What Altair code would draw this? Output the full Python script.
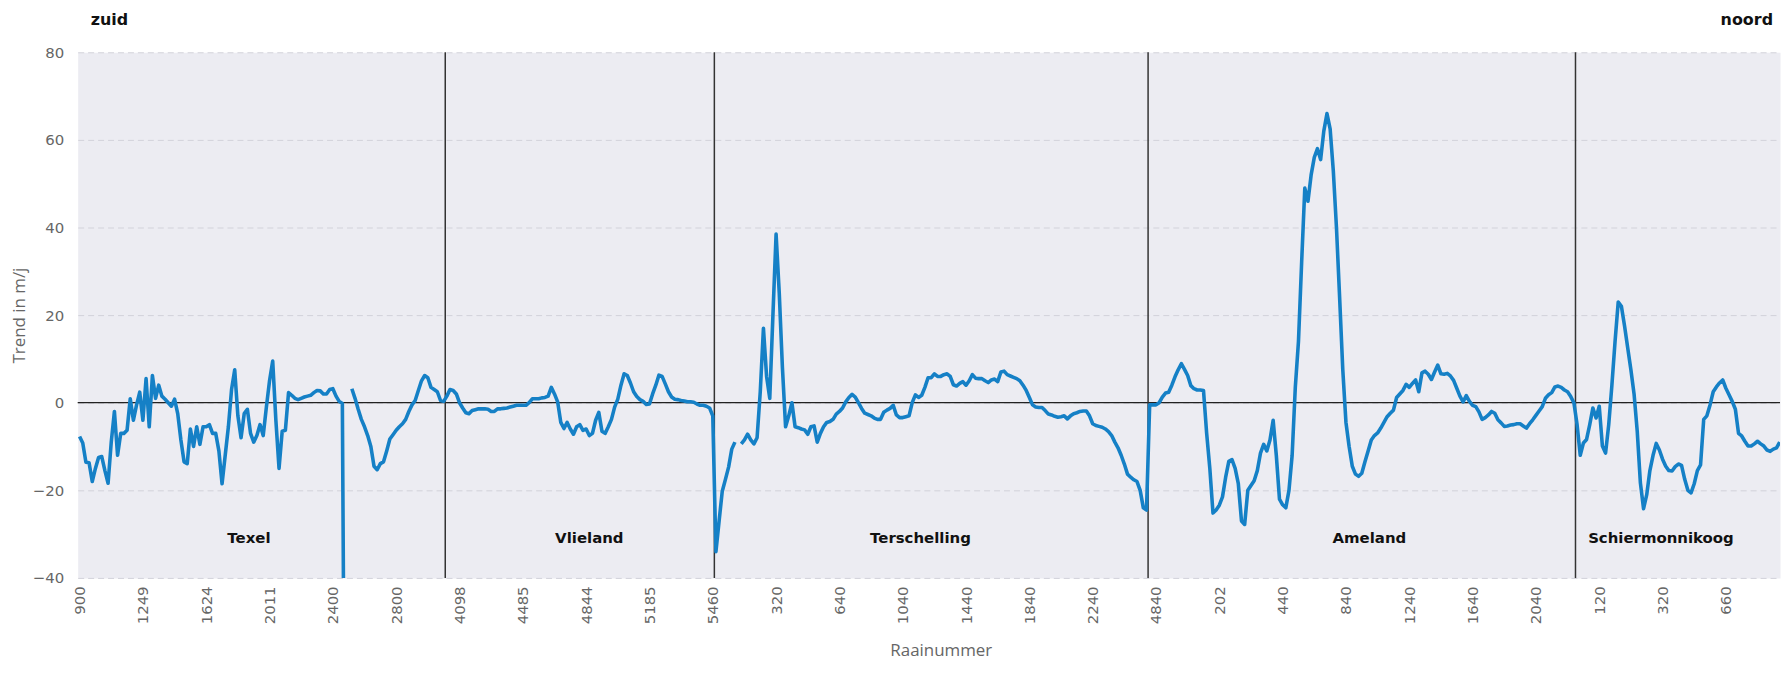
import altair as alt
import pandas as pd

# Trend (m/j) per raai, one list per island (south -> north)
texel = [
    -7.7, -9.2, -13.6, -13.7, -18, -15, -12.5, -12.3, -15.5, -18.4,
    -9, -2, -12, -7, -7, -6.3, 0.9, -4, -0.5, 2.4,
    -4, 5.5, -5.5, 6.2, 1, 4, 1.5, 0.8, 0, -0.8,
    0.8, -2.5, -8.5, -13.5, -13.9, -6, -10, -5.5, -9.5, -5.5,
    -5.5, -5, -7, -7, -11, -18.5, -12, -5.5, 3, 7.5,
    -3, -8, -2.5, -1.5, -7, -9, -7.5, -5, -7.5, -1,
    5, 9.5, -4, -15, -6.5, -6.3, 2.3, 1.7, 1, 0.7,
    1, 1.3, 1.5, 1.7, 2.3, 2.8, 2.7, 2, 2, 3,
    3.2, 1.5, 0.3, -0.2, -120, None, 3.2, 1, -1.5, -3.8,
    -5.5, -7.5, -10, -14.5, -15.3, -13.9, -13.5, -11, -8.3, -7.3,
    -6.3, -5.5, -4.8, -3.8, -2, -0.5, 0.5, 2.8, 5, 6.2,
    5.7, 3.5, 3, 2.5, 0.5, 0.3,
]
vlieland = [
    1.5, 3, 2.8, 2, 0, -1.2, -2.3, -2.5, -1.8, -1.6,
    -1.4, -1.4, -1.4, -1.5, -2, -2, -1.4, -1.4, -1.3, -1.2,
    -1, -0.8, -0.6, -0.6, -0.6, -0.6, 0, 0.9, 0.9, 0.9,
    1.1, 1.2, 1.5, 3.5, 2, 0.2, -4.5, -5.9, -4.5, -6,
    -7.2, -5.5, -5, -6.3, -6, -7.5, -7, -4, -2.2, -6.5,
    -7, -5.5, -3.8, -1, 0.8, 4, 6.6, 6.2, 4.5, 2.5,
    1.4, 0.7, 0.3, -0.4, -0.3, 2, 4, 6.3, 6, 4.3,
    2.5, 1.3, 0.8, 0.7, 0.5, 0.4, 0.2, 0.2, 0.1, -0.3,
    -0.6, -0.6, -0.8, -1.2, -3,
]
terschelling = [
    -34, -27, -20.2, -17.5, -14.7, -10.6, -9, None, -9.4, -8.5,
    -7.2, -8.5, -9.4, -8, 2.5, 17, 6, 1, 20, 38.5,
    25, 8, -5.5, -3, 0, -5.5, -5.7, -6, -6.2, -7.2,
    -5.5, -5.3, -9, -7, -5.5, -4.5, -4.3, -3.8, -2.6, -2,
    -1.2, 0.2, 1.2, 1.9, 1.3, 0, -1.3, -2.4, -2.7, -3,
    -3.5, -3.8, -3.8, -2.2, -1.7, -1.3, -0.6, -2.8, -3.4, -3.4,
    -3.2, -3, 0, 1.8, 1.2, 1.7, 3.5, 5.7, 5.7, 6.6,
    6, 6, 6.4, 6.6, 6, 4.1, 3.8, 4.4, 4.8, 4,
    5, 6.4, 5.6, 5.5, 5.5, 5, 4.6, 5.2, 5.4, 4.8,
    7, 7.2, 6.4, 6.1, 5.8, 5.5, 5, 4, 2.8, 1.2,
    -0.5, -1, -1.1, -1.1, -1.8, -2.6, -2.8, -3.1, -3.3, -3.2,
    -3, -3.7, -3, -2.5, -2.3, -2, -1.9, -1.9, -3, -4.8,
    -5.2, -5.4, -5.6, -6, -6.6, -7.5, -9, -10.3, -12, -14,
    -16.3, -17, -17.6, -18, -20, -24, -24.5,
]
ameland = [
    -0.5, -0.5, -0.5, 0, 1.3, 2.2, 2.4, 4, 5.9, 7.5,
    8.9, 7.6, 6.2, 3.9, 3.2, 2.9, 2.9, 2.8, -7, -15,
    -25.2, -24.5, -23.4, -21.5, -17, -13.4, -13, -15, -18.5, -27,
    -27.8, -20, -18.9, -17.8, -15.5, -11.5, -9.5, -11, -8.5, -4,
    -12, -22, -23.3, -24, -20, -12, 3.5, 14, 32, 49,
    46, 52, 56, 58, 55.5, 62, 66, 62.5, 53, 40,
    24, 7.5, -4.5, -10, -14.5, -16.3, -16.8, -16.1, -13.5, -11,
    -8.5, -7.5, -6.9, -5.8, -4.5, -3.2, -2.4, -1.7, 1.2, 2,
    2.8, 4.2, 3.5, 4.4, 5.2, 2.5, 6.8, 7.2, 6.5, 5.3,
    7, 8.6, 6.6, 6.5, 6.7, 6.1, 5.1, 3.3, 1.5, 0.2,
    1.6, 0.3, -0.6, -0.9, -2.1, -3.8, -3.4, -2.8, -2, -2.4,
    -3.9, -4.6, -5.4, -5.3, -5.1, -5, -4.8, -4.8, -5.3, -5.8,
    -4.8, -3.9, -2.9, -1.9, -0.9, 1, 1.8, 2.3, 3.6, 3.8,
    3.5, 2.9, 2.5, 1.4, 0,
]
schiermonnikoog = [
    -5, -12, -9.2, -8.4, -5, -1.2, -3.5, -0.8, -9.9, -11.5,
    -5, 4, 14, 23, 22, 17.5, 12.5, 7.5, 2, -6.5,
    -18.3, -24.2, -21, -15.5, -12, -9.3, -10.8, -12.9, -14.5, -15.5,
    -15.6, -14.6, -14, -14.3, -17.5, -20, -20.6, -18.5, -15.5, -14.2,
    -3.8, -3, -0.5, 2.5, 3.6, 4.5, 5.2, 3.3, 1.8, 0.3,
    -1.5, -7, -7.6, -8.8, -9.9, -9.9, -9.4, -8.8, -9.4, -9.9,
    -10.8, -11.1, -10.6, -10.3, -9,
]

islands = ["Texel", "Vlieland", "Terschelling", "Ameland", "Schiermonnikoog"]
series = [texel, vlieland, terschelling, ameland, schiermonnikoog]

# Raainummer labels shown on the axis (every 20th raai)
tick_labels = ["900", "1249", "1624", "2011", "2400", "2800", "4098", "4485",
               "4844", "5185", "5460", "320", "640", "1040", "1440", "1840",
               "2240", "4840", "202", "440", "840", "1240", "1640", "2040",
               "120", "320", "660"]
tick_step = 20

# island name annotations (raai index, trend level)
island_label_idx = [53.5, 161, 265.6, 407.4, 499.5]
island_label_trend = -31

rows = []
idx = 0
seg = 0
bounds = []
for name, vals in zip(islands, series):
    for v in vals:
        if v is None:
            seg += 1
        else:
            rows.append({"idx": idx, "trend": v, "seg": seg, "island": name})
        idx += 1
    bounds.append(idx - 0.5)
bounds = bounds[:-1]

df = pd.DataFrame(rows)
x_min, x_max = -0.6, 537.1

label_expr = "[" + ",".join("'%s'" % t for t in tick_labels) + "][round(datum.value/%d)]" % tick_step

x_enc = alt.X(
    "idx:Q",
    scale=alt.Scale(domain=[x_min, x_max], nice=False, zero=False),
    axis=alt.Axis(
        values=[i * tick_step for i in range(len(tick_labels))],
        labelExpr=label_expr, labelAngle=270, labelAlign="right",
        labelBaseline="middle", labelPadding=8, labelOverlap=False,
        labelFlush=False, labelBound=False,
        labelFont="DejaVu Sans", labelFontSize=15, labelColor="#666666",
        grid=False, ticks=False, domain=False,
        title="Raainummer", titleFont="Open Sans", titleFontSize=17,
        titleFontWeight="normal", titleColor="#666666",
        titleX=867, titleY=78, titleBaseline="alphabetic", titleAlign="center",
    ),
)
y_enc = alt.Y(
    "trend:Q",
    scale=alt.Scale(domain=[-40, 80], nice=False, zero=False),
    axis=alt.Axis(
        values=[-40, -20, 0, 20, 40, 60, 80],
        grid=True, gridDash=[6, 4], gridColor="#d2d2da", gridWidth=1,
        ticks=False, domain=False, labelPadding=14,
        labelFont="DejaVu Sans", labelFontSize=15, labelColor="#666666",
        title="Trend in m/j", titleFont="Open Sans", titleFontSize=17,
        titleFontWeight="normal", titleColor="#666666",
        titleAngle=270, titleX=-58, titleY=264,
        titleAlign="center", titleBaseline="middle",
    ),
)

zero = alt.Chart(pd.DataFrame({"trend": [0]})).mark_rule(
    color="#222222", strokeWidth=1.3
).encode(y=y_enc)

sep = alt.Chart(pd.DataFrame({"idx": bounds})).mark_rule(
    color="#333333", strokeWidth=1.5
).encode(x=x_enc)

line = alt.Chart(df).mark_line(
    color="#1580C6", strokeWidth=3.6, clip=True, strokeJoin="round"
).encode(x=x_enc, y=y_enc, detail="seg:N")

names = alt.Chart(pd.DataFrame({
    "idx": island_label_idx,
    "trend": [island_label_trend] * len(islands),
    "name": islands,
})).mark_text(
    font="DejaVu Sans", fontSize=15, fontWeight="bold", color="#111111",
    align="center", baseline="middle"
).encode(x=x_enc, y=y_enc, text="name:N")

zuid = alt.Chart(pd.DataFrame({"idx": [x_min], "trend": [80], "t": ["zuid"]})).mark_text(
    font="DejaVu Sans", fontSize=16, fontWeight="bold", color="#111111",
    align="left", baseline="middle", dx=13, dy=-32
).encode(x=x_enc, y=y_enc, text="t:N")

noord = alt.Chart(pd.DataFrame({"idx": [x_max], "trend": [80], "t": ["noord"]})).mark_text(
    font="DejaVu Sans", fontSize=16, fontWeight="bold", color="#111111",
    align="right", baseline="middle", dx=-7, dy=-32
).encode(x=x_enc, y=y_enc, text="t:N")

chart = alt.layer(zero, sep, line, names, zuid, noord).properties(
    width=1710, height=528,
    autosize=alt.AutoSizeParams(type="none"),
    padding={"left": 70, "top": 43, "right": 2, "bottom": 86},
    background="white",
).configure_view(fill="#ECECF2", stroke="transparent")

chart.save("out.html", embed_options={"renderer": "svg", "actions": False})
